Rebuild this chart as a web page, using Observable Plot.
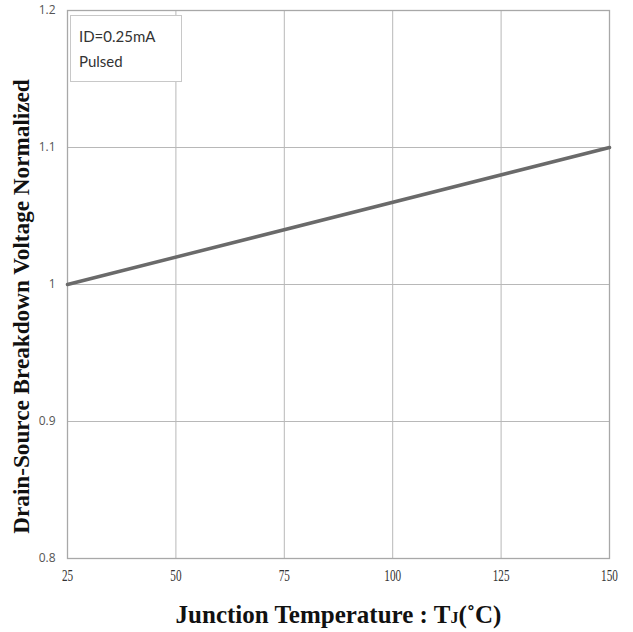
<!DOCTYPE html>
<html><head><meta charset="utf-8">
<script src="https://cdn.jsdelivr.net/npm/d3@7"></script>
<script src="https://cdn.jsdelivr.net/npm/@observablehq/plot@0.6"></script>
<style>
body{margin:0;background:#fff;}
#wrap{position:relative;width:633px;height:632px;}
#legend{position:absolute;left:70px;top:15px;width:112px;height:67px;border:1px solid #c8c8c8;background:#fff;box-sizing:border-box;font-family:Lato,sans-serif;font-size:15px;color:#333;padding:8px 0 0 8px;line-height:25px;}
</style></head>
<body><div id="wrap"></div>
<script>
const temperature = [25, 150];
const bvdssNorm = [1.0, 1.1];
const xTicks = [25, 50, 75, 100, 125, 150];
const yTicks = [0.8, 0.9, 1.0, 1.1, 1.2];
const legendLines = ["ID=0.25mA", "Pulsed"];
const xTitle = "Junction Temperature : TJ(˚C)";
const yTitle = "Drain-Source Breakdown Voltage Normalized";

const data = temperature.map((t, i) => ({t, v: bvdssNorm[i]}));

const chart = Plot.plot({
  width: 633, height: 632,
  marginLeft: 67, marginRight: 24, marginTop: 10, marginBottom: 74,
  x: {domain: [25, 150]},
  y: {domain: [0.8, 1.2]},
  marks: [
    Plot.gridX(xTicks, {stroke: "#b8b8b8", strokeOpacity: 1, strokeWidth: 1}),
    Plot.gridY(yTicks, {stroke: "#b8b8b8", strokeOpacity: 1, strokeWidth: 1}),
    Plot.frame({stroke: "#a8a8a8", strokeWidth: 1.3}),
    Plot.axisX(xTicks, {label: null, tickSize: 0, tickPadding: 11, fontSize: 16, fontFamily: "Liberation Serif", fill: "#333", tickFormat: d => String(d), className: "xticks"}),
    Plot.axisY(yTicks, {label: null, tickSize: 0, tickPadding: 12, fontSize: 12, fontFamily: "Open Sans", fill: "#555", tickFormat: d => d === 1 ? "1" : String(d)}),
    Plot.line(data, {x: "t", y: "v", stroke: "#6a6a6a", strokeWidth: 3.5}),
    Plot.text([xTitle], {frameAnchor: "bottom", lineAnchor: "middle", dy: 56, fontSize: 25, fontWeight: "bold", fontFamily: "Liberation Serif", fill: "#111", className: "xtitle"}),
    Plot.text([yTitle], {frameAnchor: "left", textAnchor: "middle", lineAnchor: "middle", dx: -46, dy: 22, rotate: -90, fontSize: 23.2, fontWeight: "bold", fontFamily: "Liberation Serif", fill: "#111"})
  ]
});
document.getElementById("wrap").appendChild(chart);
d3.select(chart).selectAll(".xticks text").each(function() {
  const tr = this.getAttribute("transform") || "";
  this.setAttribute("transform", tr + " scale(0.7,1)");
});
const t = d3.select(chart).select(".xtitle text");
if (!t.empty()) {
  t.text(null);
  t.append("tspan").text("Junction Temperature : T");
  t.append("tspan").attr("font-size", 16).text("J");
  t.append("tspan").text("(˚C)");
}
const lg = document.createElement("div");
lg.id = "legend";
lg.innerHTML = legendLines.join("<br>");
document.getElementById("wrap").appendChild(lg);
</script></body></html>
